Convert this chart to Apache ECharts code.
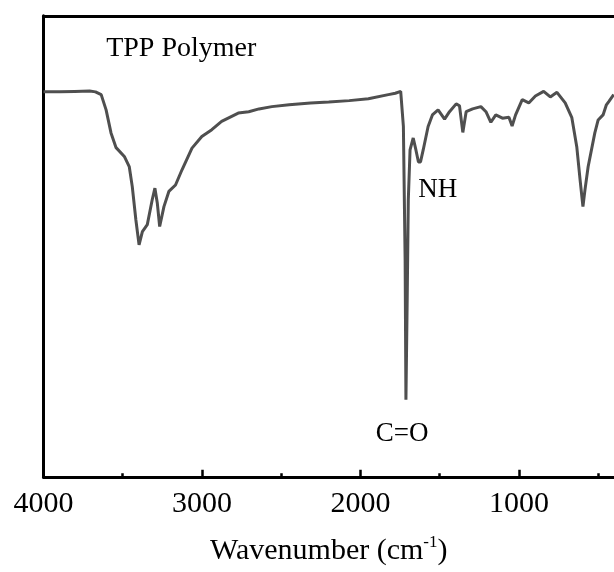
<!DOCTYPE html>
<html>
<head>
<meta charset="utf-8">
<script src="https://cdn.jsdelivr.net/npm/echarts@6/dist/echarts.min.js"></script>
<style>html,body{margin:0;padding:0;background:#fff}#c{width:614px;height:572px}</style>
</head>
<body>
<div id="c"></div>
<script>
// Wavenumber (cm-1)
var wavenumbers = [4000,3897,3803,3709,3672,3636,3605,3574,3542,3490,3459,3440,3417,3397,3376,3345,3314,3297,3282,3267,3240,3209,3167,3126,3063,3001,2938,2876,2771,2705,2640,2559,2450,2315,2200,2071,1950,1824,1780,1746,1729,1718,1713,1705,1698,1687,1667,1650,1634,1621,1604,1573,1546,1510,1469,1438,1396,1375,1354,1333,1292,1240,1208,1177,1146,1104,1063,1043,1021,979,938,896,844,802,760,708,666,635,614,596,583,563,521,500,469,448,433,402];
// Transmittance (a.u.)
var transmittance = [83.5,83.5,83.6,83.7,83.5,82.9,79.6,74.6,71.4,69.5,67.3,63.0,55.7,50.3,53.2,54.7,60.1,62.6,59.4,54.3,58.6,61.9,63.3,66.6,71.3,73.8,75.3,77.1,78.9,79.2,79.8,80.3,80.7,81.1,81.3,81.6,82.0,82.9,83.2,83.6,76.0,47.1,16.7,38.4,60.1,70.9,73.5,70.9,68.3,68.3,70.9,76.0,78.5,79.6,77.6,79.2,80.9,80.5,74.7,79.2,79.8,80.3,79.2,76.9,78.5,77.8,78.0,76.1,78.5,81.8,81.1,82.6,83.6,82.4,83.4,81.1,77.9,71.6,64.4,58.6,62.3,67.3,74.6,77.4,78.5,80.7,81.4,82.9];
var majorTicks = [4000,3000,2000,1000];
var minorTicks = [3500,2500,1500,500];
var tickLabels = ['4000','3000','2000','1000'];
var annotations = [
  {text:'TPP Polymer', w:3131, v:92.8, size:28},
  {text:'NH', w:1512, v:62.3, size:27},
  {text:'C=O', w:1737, v:9.3, size:27}
];

var serif = 'Liberation Serif';
var data = wavenumbers.map(function(w,i){return [w, transmittance[i]];});

var chart = echarts.init(document.getElementById('c'), null, {renderer:'canvas'});
chart.setOption({
  animation:false,
  backgroundColor:'#fff',
  grid:{left:43.5, top:15.8, width:576, height:461, containLabel:false},
  xAxis:[
    {type:'value', min:400, max:4000, inverse:true, position:'bottom',
     axisLine:{show:true, onZero:false, lineStyle:{color:'#000', width:3}},
     axisTick:{show:true, inside:true, length:7, lineStyle:{color:'#000', width:2.5}, customValues:majorTicks},
     axisLabel:{show:true, customValues:majorTicks, margin:12, color:'#000', fontSize:30, fontFamily:serif,
       formatter:function(v){var i=majorTicks.indexOf(v);return i>=0?tickLabels[i]:'';}},
     splitLine:{show:false},
     name:'{a|Wavenumber (cm}{s|-1}{a|)}', nameLocation:'middle', nameGap:57,
     nameTextStyle:{rich:{
       a:{fontSize:30, fontFamily:serif, color:'#000', lineHeight:34},
       s:{fontSize:17, fontFamily:serif, color:'#000', lineHeight:20, verticalAlign:'top'}
     }}
    },
    {type:'value', min:400, max:4000, inverse:true, position:'bottom',
     axisLine:{show:false}, axisLabel:{show:false}, splitLine:{show:false},
     axisTick:{show:true, inside:true, length:3.5, lineStyle:{color:'#000', width:2.5}, customValues:minorTicks}
    },
    {type:'value', min:400, max:4000, inverse:true, position:'top',
     axisLine:{show:true, onZero:false, lineStyle:{color:'#000', width:3}},
     axisTick:{show:false}, axisLabel:{show:false}, splitLine:{show:false}
    }
  ],
  yAxis:{type:'value', min:0, max:100,
    axisLine:{show:true, onZero:false, lineStyle:{color:'#000', width:3}},
    axisTick:{show:false}, axisLabel:{show:false}, splitLine:{show:false}},
  series:[{
    type:'line', xAxisIndex:0, data:data, showSymbol:false, smooth:false,
    lineStyle:{color:'#4f4f4f', width:3}, itemStyle:{color:'#4f4f4f'},
    markPoint:{
      symbol:'circle', symbolSize:1, itemStyle:{color:'rgba(0,0,0,0)'},
      data:annotations.map(function(a){return {coord:[a.w,a.v], value:a.text,
        label:{show:true, position:'inside', formatter:a.text, color:'#000', fontSize:a.size, fontFamily:serif}};})
    }
  }]
});
</script>
</body>
</html>
